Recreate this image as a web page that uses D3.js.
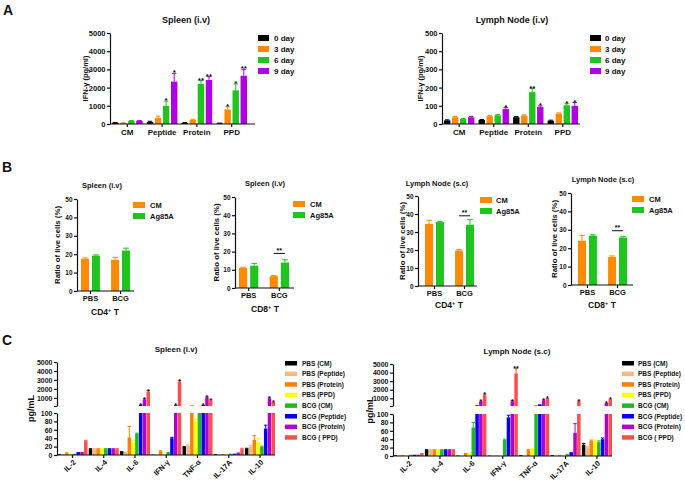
<!DOCTYPE html>
<meta charset="utf-8">
<style>
  html, body { margin:0; padding:0; background:#fff; overflow:hidden }
  svg text { font-family: "Liberation Sans", Arial, sans-serif; font-weight: bold; fill: #111; }
  .axis path, .axis line { stroke: #111; stroke-width: 1.2; }
  .axis text { fill: #111; }
</style>
<svg id="mainsvg" width="685" height="482"></svg>
<script src="https://cdn.jsdelivr.net/npm/d3@7"></script>
<script>

// ---- panel A : IFN-gamma by stimulus and day ----
var dayNames = ["0 day", "3 day", "6 day", "9 day"];
var dayColors = ["#000000", "#ff8a00", "#1fc41f", "#b100e3"];
var stimCats = ["CM", "Peptide", "Protein", "PPD"];

// rows = day, columns = stimulus
var spleenIFN    = [[70, 110, 60, 40], [60, 330, 230, 800], [170, 1000, 2200, 1850], [170, 2330, 2420, 2650]];
var spleenIFNErr = [[15, 40, 15, 10], [10, 100, 30, 150], [20, 250, 180, 350], [20, 450, 180, 350]];
var spleenIFNSig = [["", "", "", ""], ["", "", "", "*"], ["", "*", "**", "*"], ["", "*", "**", "**"]];

var lnIFN    = [[20, 22, 37, 18], [37, 43, 47, 57], [27, 48, 175, 103], [37, 82, 93, 100]];
var lnIFNErr = [[3, 3, 4, 3], [4, 3, 3, 4], [3, 4, 20, 8], [4, 8, 6, 18]];
var lnIFNSig = [["", "", "", ""], ["", "", "", ""], ["", "", "**", "*"], ["", "*", "*", "*"]];

// ---- panel B : ratio of live cells ----
var treatCats = ["PBS", "BCG"];
var antigenNames = ["CM", "Ag85A"];
var antigenColors = ["#ff8a00", "#1fc41f"];

var spCD4 = [[17.5, 17], [19.2, 22]];
var spCD4Err = [[0.5, 1.3], [0.4, 1.3]];
var spCD8 = [[11, 6.5], [12.3, 14]];
var spCD8Err = [[0.4, 0.3], [1.2, 1.5]];
var lnCD4 = [[34.5, 19.7], [35.5, 34]];
var lnCD4Err = [[2, 0.5], [0.4, 3]];
var lnCD8 = [[24, 15.2], [26.8, 25.8]];
var lnCD8Err = [[3, 0.6], [0.5, 0.5]];

// ---- panel C : cytokines ----
var cytokines = ["IL-2", "IL-4", "IL-6", "IFN-γ", "TNF-α", "IL-17A", "IL-10"];
var groupNames = ["PBS (CM)", "PBS (Peptide)", "PBS (Protein)", "PBS (PPD)",
                  "BCG (CM)", "BCG (Peptide)", "BCG (Protein)", "BCG ( PPD)"];
var groupColors = ["#000000", "#f5b880", "#ff7f00", "#ffff00", "#1fb81f", "#0000ff", "#b400c8", "#ff4d4d"];

// rows = group, columns = cytokine
var spleenCyt = [
  [2, 14, 7, 1, 19, 2, 15],
  [2, 14, 5, 1, 22, 2, 20],
  [4, 14, 42, 9, 180, 2, 36],
  [2, 14, 30, 3, 80, 1, 31],
  [3, 14, 50, 5, 110, 3, 19],
  [5, 14, 250, 40, 220, 3, 63],
  [5, 14, 780, 220, 1000, 4, 890],
  [33, 14, 1670, 2780, 670, 14, 440]
];
var spleenCytErr = [
  [0, 1, 1, 0, 1, 0, 1],
  [0, 1, 1, 0, 2, 0, 3],
  [1, 1, 26, 1, 0, 0, 10],
  [0, 1, 5, 0, 5, 0, 8],
  [0, 1, 2, 1, 0, 0, 2],
  [1, 1, 0, 2, 0, 0, 8],
  [1, 1, 100, 0, 100, 1, 100],
  [2, 1, 150, 150, 100, 2, 60]
];
var spleenCytSig = [
  ["", "", "", "", "", "", ""], ["", "", "", "", "", "", ""], ["", "", "", "", "", "", ""], ["", "", "", "", "", "", ""],
  ["", "", "", "", "", "", ""],
  ["", "", "*", "", "*", "", ""],
  ["", "", "*", "*", "*", "", "*"],
  ["", "", "*", "*", "*", "", "*"]
];

var lnCyt = [
  [2, 14, 1, 1, 2, 2, 27],
  [2, 14, 1, 1, 1, 1, 21],
  [2, 14, 5, 1, 14, 2, 36],
  [2, 14, 5, 1, 16, 1, 36],
  [3, 14, 68, 38, 200, 3, 33],
  [3, 14, 200, 92, 300, 7, 40],
  [3, 14, 570, 600, 700, 55, 350],
  [5, 14, 1370, 3900, 900, 600, 800]
];
var lnCytErr = [
  [0, 1, 0, 0, 0, 0, 3],
  [0, 1, 0, 0, 0, 0, 2],
  [0, 1, 1, 0, 1, 0, 2],
  [0, 1, 1, 0, 1, 0, 2],
  [0, 1, 12, 2, 0, 1, 3],
  [0, 1, 0, 5, 0, 1, 3],
  [0, 1, 80, 100, 100, 22, 60],
  [1, 1, 100, 600, 80, 80, 100]
];
var lnCytSig = [
  ["", "", "", "", "", "", ""], ["", "", "", "", "", "", ""], ["", "", "", "", "", "", ""], ["", "", "", "", "", "", ""],
  ["", "", "", "", "", "", ""], ["", "", "", "", "", "", ""],
  ["", "", "*", "*", "*", "", "*"],
  ["", "", "*", "**", "*", "*", "*"]
];


var svg = d3.select("#mainsvg");
var plain = d3.format("d");

function panelLetter(t, x, y) {
  svg.append("text").attr("x", x).attr("y", y).style("font-size", "14px").text(t);
}

function yLabel(g, t, x, y, size) {
  g.append("text")
    .attr("transform", "translate(" + x + "," + y + ") rotate(-90)")
    .attr("text-anchor", "middle")
    .style("font-size", size + "px")
    .text(t);
}

function legend(g, names, colors, x, y, step, sw, sh, tx, size) {
  names.forEach(function(n, i) {
    g.append("rect").attr("x", x).attr("y", y + i * step).attr("width", sw).attr("height", sh).attr("fill", colors[i]);
    g.append("text").attr("x", tx).attr("y", y + i * step + sh / 2).attr("dy", "0.35em")
      .style("font-size", size + "px").text(n);
  });
}

function errBar(g, cx, y1, y2, w, col) {
  g.append("line").attr("x1", cx).attr("x2", cx).attr("y1", y1).attr("y2", y2).attr("stroke", col).attr("stroke-width", 1);
  g.append("line").attr("x1", cx - w / 2).attr("x2", cx + w / 2).attr("y1", y2).attr("y2", y2).attr("stroke", col).attr("stroke-width", 1);
}

// grouped bar chart (panels A and B)
function grouped(o) {
  var g = svg.append("g");
  var y = d3.scaleLinear().domain([0, o.yMax]).range([o.yBot, o.yTop]);
  var xg = d3.scaleBand().domain(o.cats).range(o.band).paddingInner(o.padG);
  var xs = d3.scaleBand().domain(o.series).range([0, xg.bandwidth()]).paddingInner(o.padS);

  o.series.forEach(function(s, si) {
    o.cats.forEach(function(c, ci) {
      var v = o.values[si][ci], e = o.err[si][ci];
      var bx = xg(c) + xs(s), bw = xs.bandwidth(), cx = bx + bw / 2;
      g.append("rect").attr("x", bx).attr("y", y(v)).attr("width", bw)
        .attr("height", o.yBot - y(v)).attr("fill", o.colors[si]);
      if (e > 0) errBar(g, cx, y(v), y(v + e), bw * 0.7, o.colors[si]);
      if (o.sig && o.sig[si][ci]) {
        g.append("text").attr("x", cx).attr("y", y(v + e) + 2).attr("text-anchor", "middle")
          .style("font-size", o.sigSize + "px").text(o.sig[si][ci]);
      }
    });
  });

  if (o.bracket) {
    var b = o.bracket;
    var xa = xg(b.cat) + xs(o.series[0]) + xs.bandwidth() / 2;
    var xb = xg(b.cat) + xs(o.series[1]) + xs.bandwidth() / 2;
    g.append("line").attr("x1", xa).attr("x2", xb).attr("y1", y(b.at)).attr("y2", y(b.at)).attr("stroke", "#111");
    g.append("text").attr("x", (xa + xb) / 2).attr("y", y(b.at) - 0.5).attr("text-anchor", "middle")
      .style("font-size", "7px").text(b.label);
  }

  g.append("g").attr("class", "axis").attr("transform", "translate(" + o.x0 + ",0)")
    .call(d3.axisLeft(y).tickValues(o.yTicks).tickFormat(plain).tickSize(3).tickPadding(1.5).tickSizeOuter(0))
    .call(function(a) { a.selectAll("text").style("font-size", o.tickSize + "px"); });

  g.append("line").attr("x1", o.x0).attr("x2", o.x1).attr("y1", o.yBot).attr("y2", o.yBot)
    .attr("stroke", "#111").attr("stroke-width", 1.2);
  o.cats.forEach(function(c) {
    var cx = xg(c) + xg.bandwidth() / 2;
    g.append("line").attr("x1", cx).attr("x2", cx).attr("y1", o.yBot).attr("y2", o.yBot + 3)
      .attr("stroke", "#111").attr("stroke-width", 1.2);
    g.append("text").attr("x", cx).attr("y", o.yBot + o.labOff).attr("text-anchor", "middle")
      .style("font-size", o.catSize + "px").text(c);
  });

  g.append("text").attr("x", o.titleX).attr("y", o.titleY).attr("text-anchor", "middle")
    .style("font-size", o.titleSize + "px").text(o.title);
  yLabel(g, o.ylab, o.ylabX, (o.yTop + o.yBot) / 2, o.ylabSize);
  legend(g, o.series, o.colors, o.legX, o.legY, o.legStep, o.legW, 6, o.legTX, o.legSize);

  if (o.xlab) {
    var t = g.append("text").attr("x", o.xlabX).attr("y", o.xlabY).attr("text-anchor", "middle").style("font-size", "8.5px");
    t.append("tspan").text(o.xlab[0]);
    t.append("tspan").attr("dy", "-3").style("font-size", "5.5px").text("+");
    t.append("tspan").attr("dy", "3").text(" T");
  }
}

// broken-axis grouped bar chart (panel C)
function broken(o) {
  var g = svg.append("g");
  var yLo = d3.scaleLinear().domain([0, 100]).range([o.yBot, o.yLoTop]);
  var yUp = d3.scaleLinear().domain([100, 5000]).range([o.yUpBot, o.yUpTop]);
  var xg = d3.scaleBand().domain(cytokines).range([o.x0 + 0.5, o.x1]).paddingInner(0.04);
  var xs = d3.scaleBand().domain(groupNames).range([0, xg.bandwidth()]).paddingInner(0.08);

  groupNames.forEach(function(s, si) {
    cytokines.forEach(function(c, ci) {
      var v = o.values[si][ci], e = o.err[si][ci];
      var bx = xg(c) + xs(s), bw = xs.bandwidth(), cx = bx + bw / 2, col = groupColors[si];
      var top;
      g.append("rect").attr("x", bx).attr("y", yLo(Math.min(v, 100))).attr("width", bw)
        .attr("height", o.yBot - yLo(Math.min(v, 100))).attr("fill", col);
      if (v > 100) {
        g.append("rect").attr("x", bx).attr("y", yUp(v)).attr("width", bw)
          .attr("height", o.yUpBot - yUp(v)).attr("fill", col);
        top = yUp(v + e);
        if (e > 0) errBar(g, cx, yUp(v), top, bw, col);
      } else {
        top = yLo(Math.min(v + e, 100));
        if (e > 0) errBar(g, cx, yLo(v), top, bw, col);
      }
      if (o.sig[si][ci]) {
        g.append("text").attr("x", cx).attr("y", top + 3).attr("text-anchor", "middle")
          .style("font-size", "7px").text(o.sig[si][ci]);
      }
    });
  });

  g.append("g").attr("class", "axis").attr("transform", "translate(" + o.x0 + ",0)")
    .call(d3.axisLeft(yLo).tickValues([0, 20, 40, 60, 80, 100]).tickFormat(plain).tickSize(3).tickPadding(1.5).tickSizeOuter(0))
    .call(function(a) { a.selectAll("text").style("font-size", "7px"); });
  g.append("g").attr("class", "axis").attr("transform", "translate(" + o.x0 + ",0)")
    .call(d3.axisLeft(yUp).tickValues([100, 1000, 2000, 3000, 4000, 5000]).tickSize(3).tickPadding(1.5).tickSizeOuter(0)
      .tickFormat(function(d) { return d === 100 ? "" : plain(d); }))
    .call(function(a) { a.selectAll("text").style("font-size", "7px"); });

  g.append("line").attr("x1", o.x0).attr("x2", o.x1).attr("y1", o.yBot).attr("y2", o.yBot)
    .attr("stroke", "#111").attr("stroke-width", 1.2);
  cytokines.forEach(function(c) {
    var cx = xg(c) + xg.bandwidth() / 2;
    g.append("line").attr("x1", cx).attr("x2", cx).attr("y1", o.yBot).attr("y2", o.yBot + 3)
      .attr("stroke", "#111").attr("stroke-width", 1.2);
    g.append("text").attr("transform", "translate(" + (cx + 2) + "," + (o.yBot + 6) + ") rotate(-45)")
      .attr("text-anchor", "end").attr("dy", "0.35em").style("font-size", "7.5px").text(c);
  });

  g.append("text").attr("x", o.titleX).attr("y", o.titleY).attr("text-anchor", "middle")
    .style("font-size", "8px").text(o.title);
  yLabel(g, "pg/mL", o.ylabX, (o.yUpTop + o.yBot) / 2, 9);
  legend(g, groupNames, groupColors, o.legX, o.legY, 10.6, 12, 4.5, o.legTX, 6.5);
}


panelLetter("A", 3, 15);
panelLetter("B", 2, 172);
panelLetter("C", 2, 345);

var aCommon = {
  cats: stimCats, series: dayNames, colors: dayColors, yTop: 33, yBot: 124,
  padG: 0.12, padS: 0.2, sigSize: 8, tickSize: 7.5, catSize: 8, labOff: 11,
  titleY: 23, titleSize: 9, ylab: "IFN-γ (pg/ml)", ylabSize: 7.5,
  legY: 35, legStep: 11, legW: 11, legSize: 8
};

grouped(Object.assign({}, aCommon, {
  values: spleenIFN, err: spleenIFNErr, sig: spleenIFNSig,
  x0: 110, x1: 255, band: [112, 247], yMax: 5000, yTicks: [0, 1000, 2000, 3000, 4000, 5000],
  title: "Spleen (i.v)", titleX: 186, ylabX: 88, legX: 258, legTX: 274
}));

grouped(Object.assign({}, aCommon, {
  values: lnIFN, err: lnIFNErr, sig: lnIFNSig,
  x0: 442, x1: 580, band: [444, 578], yMax: 500, yTicks: [0, 100, 200, 300, 400, 500],
  title: "Lymph Node (i.v)", titleX: 512, ylabX: 423, legX: 590, legTX: 605
}));

var bCommon = {
  cats: treatCats, series: antigenNames, colors: antigenColors, yMax: 50,
  yTicks: [0, 10, 20, 30, 40, 50], padG: 0.37, padS: 0.27, sigSize: 7,
  tickSize: 6.5, catSize: 7.5, labOff: 9.5, titleSize: 7.5, ylab: "Ratio of live cells (%)", ylabSize: 7.8,
  legStep: 11, legW: 12, legSize: 7.5
};

grouped(Object.assign({}, bCommon, {
  values: spCD4, err: spCD4Err, x0: 77, x1: 134, band: [81, 130], yTop: 199, yBot: 291,
  title: "Spleen (i.v)", titleX: 102, titleY: 188, ylabX: 60,
  legX: 133, legY: 202, legTX: 150, xlab: ["CD4"], xlabX: 105, xlabY: 315
}));

grouped(Object.assign({}, bCommon, {
  values: spCD8, err: spCD8Err, x0: 235, x1: 294, band: [239, 289], yTop: 197, yBot: 288,
  title: "Spleen (i.v)", titleX: 265, titleY: 186, ylabX: 219,
  legX: 293, legY: 201, legTX: 310, xlab: ["CD8"], xlabX: 265, xlabY: 312,
  bracket: { cat: "BCG", at: 19, label: "**" }
}));

grouped(Object.assign({}, bCommon, {
  values: lnCD4, err: lnCD4Err, x0: 418, x1: 477, band: [425, 474], yTop: 196, yBot: 286,
  title: "Lymph Node (s.c)", titleX: 437, titleY: 186, ylabX: 405,
  legX: 480, legY: 197, legTX: 496, xlab: ["CD4"], xlabX: 449, xlabY: 308,
  bracket: { cat: "BCG", at: 39, label: "**" }
}));

grouped(Object.assign({}, bCommon, {
  values: lnCD8, err: lnCD8Err, x0: 571, x1: 633, band: [578, 627], yTop: 193, yBot: 285,
  title: "Lymph Node (s.c)", titleX: 603, titleY: 182, ylabX: 557,
  legX: 632, legY: 196, legTX: 649, xlab: ["CD8"], xlabX: 602, xlabY: 308,
  bracket: { cat: "BCG", at: 29.5, label: "**" }
}));

broken({
  values: spleenCyt, err: spleenCytErr, sig: spleenCytSig,
  x0: 57, x1: 275, yBot: 455, yLoTop: 413, yUpBot: 406, yUpTop: 362,
  title: "Spleen (i.v)", titleX: 176, titleY: 352, ylabX: 34,
  legX: 285, legY: 361, legTX: 302
});

broken({
  values: lnCyt, err: lnCytErr, sig: lnCytSig,
  x0: 393, x1: 612, yBot: 456, yLoTop: 414, yUpBot: 406, yUpTop: 364,
  title: "Lymph Node (s.c)", titleX: 517, titleY: 354, ylabX: 373,
  legX: 622, legY: 361, legTX: 638
});

</script>
